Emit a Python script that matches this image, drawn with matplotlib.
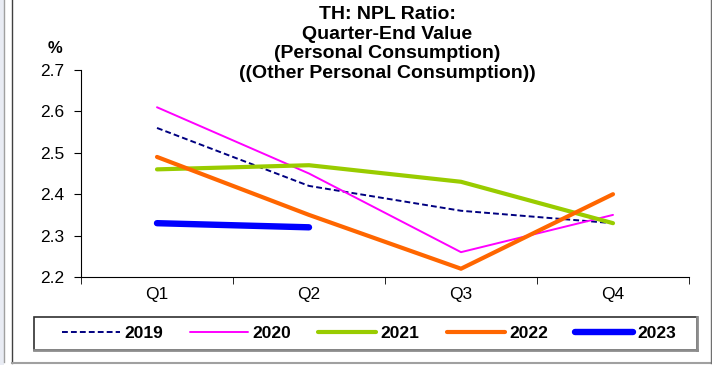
import matplotlib.pyplot as plt
from matplotlib.lines import Line2D
from matplotlib.patches import Rectangle

plt.rcParams['font.family'] = ['Liberation Sans', 'DejaVu Sans']

quarters = ['Q1', 'Q2', 'Q3', 'Q4']
y2019 = [2.56, 2.42, 2.36, 2.33]
y2020 = [2.61, 2.45, 2.26, 2.35]
y2021 = [2.46, 2.47, 2.43, 2.33]
y2022 = [2.49, 2.35, 2.22, 2.40]
y2023 = [2.33, 2.32]

series = [
    ('2019', y2019, '#000080', 1.4, (0, (3, 1.6))),
    ('2020', y2020, '#FF00FF', 1.4, '-'),
    ('2021', y2021, '#99CC00', 3.0, '-'),
    ('2022', y2022, '#FF6600', 3.0, '-'),
    ('2023', y2023, '#0000FF', 4.6, '-'),
]

W, H = 712, 365
fig = plt.figure(figsize=(W / 100, H / 100), dpi=100)

# outer frame like the source screenshot
fig.patches.append(Rectangle((0, 0), 4 / W, 1, transform=fig.transFigure,
                             facecolor='#E9ECF4', edgecolor='none'))
fig.add_artist(Line2D([3.5 / W, 3.5 / W], [3 / H, 1], color='#A0A0A0', lw=1))
fig.add_artist(Line2D([11.5 / W, 11.5 / W], [2 / H, 1], color='#404040', lw=1))
fig.add_artist(Line2D([11.5 / W, 711 / W], [2.5 / H, 2.5 / H], color='#A0A0A0', lw=1.5))
fig.add_artist(Line2D([710.5 / W, 710.5 / W], [2 / H, 1], color='#707070', lw=1))

ax = fig.add_axes([81 / W, 88 / H, 608 / W, 207 / H])

x = list(range(len(quarters)))
for name, vals, color, lw, ls in series:
    ax.plot(x[:len(vals)], vals, color=color, lw=lw, ls=ls, label=name,
            solid_capstyle='round')

ax.set_xlim(-0.5, 3.5)
ax.set_ylim(2.2, 2.7)
ax.set_yticks([2.2, 2.3, 2.4, 2.5, 2.6, 2.7])
ax.set_yticklabels(['2.2', '2.3', '2.4', '2.5', '2.6', '2.7'])
ax.set_xticks(x)
ax.set_xticklabels(quarters)
ax.set_xticks([-0.5, 0.5, 1.5, 2.5, 3.5], minor=True)
ax.tick_params(axis='x', which='major', length=0, pad=7, labelsize=12.5)
ax.tick_params(axis='x', which='minor', length=5, direction='out')
ax.tick_params(axis='y', length=5, direction='out', labelsize=12.5, pad=7)
ax.spines['top'].set_visible(False)
ax.spines['right'].set_visible(False)

ax.text(-0.043, 1.106, '%', transform=ax.transAxes, fontsize=12,
        fontweight='bold', ha='center', va='center')

fig.text(387 / W, 1 - 6 / H,
         'TH: NPL Ratio:\nQuarter-End Value\n(Personal Consumption)\n((Other Personal Consumption))',
         ha='center', va='top', fontsize=14, fontweight='bold', linespacing=1.2)

# legend box with a grey shadow edge
fig.patches.append(Rectangle((34 / W, 15 / H), 663 / W, 33 / H, transform=fig.transFigure,
                             facecolor='white', edgecolor='#303030', lw=1.2))
fig.add_artist(Line2D([34 / W, 697 / W], [15 / H, 15 / H], color='#8C8C8C', lw=2))
fig.add_artist(Line2D([697 / W, 697 / W], [15 / H, 48 / H], color='#8C8C8C', lw=2))

leg = fig.legend(loc='center', bbox_to_anchor=(369 / W, 31.5 / H), ncol=5,
                 frameon=False, handlelength=3.35, handletextpad=0.25,
                 columnspacing=1.55, borderaxespad=0, borderpad=0,
                 prop={'weight': 'bold', 'size': 12.5})

fig.savefig('out.png', dpi=100)
